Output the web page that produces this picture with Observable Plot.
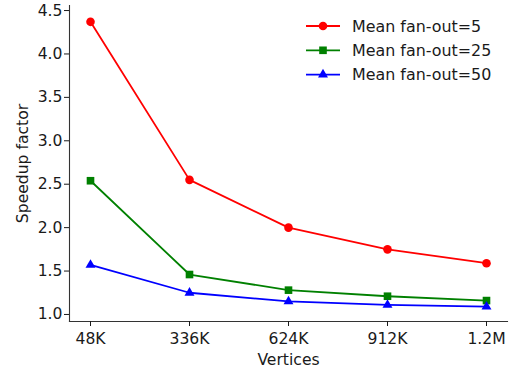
<!DOCTYPE html>
<html>
<head>
<meta charset="utf-8">
<script src="https://cdn.jsdelivr.net/npm/d3@7"></script>
<script src="https://cdn.jsdelivr.net/npm/@observablehq/plot@0.6"></script>
<style>
  body { margin: 0; background: #fff; }
  #chart { position: relative; width: 514px; height: 370px; }
</style>
</head>
<body>
<div id="chart"></div>
<script>
// Graph size (vertices) on the x axis
const vertices = ["48K", "336K", "624K", "912K", "1.2M"];

// Speedup factor per mean fan-out
const seriesNames = ["Mean fan-out=5", "Mean fan-out=25", "Mean fan-out=50"];
const fanout5  = [4.37, 2.55, 2.00, 1.75, 1.59];
const fanout25 = [2.54, 1.46, 1.28, 1.21, 1.16];
const fanout50 = [1.57, 1.25, 1.15, 1.11, 1.09];

const seriesColors  = ["#ff0000", "#008000", "#0000ff"];
const seriesSymbols = ["circle", "square", "triangle"];
const symbolRadius  = [4.3, 4.3, 3.7];

const yTicks = [1.0, 1.5, 2.0, 2.5, 3.0, 3.5, 4.0, 4.5];

// long-format table for the line and dot marks
const rows = [];
[fanout5, fanout25, fanout50].forEach((vals, s) => {
  vals.forEach((v, i) => rows.push({series: seriesNames[s], vertices: vertices[i], speedup: v}));
});

const font = "DejaVu Sans, sans-serif";
const fs = 15.6;
const lineW = 1.8;

const seriesMarks = seriesNames.flatMap((name, s) => {
  const d = rows.filter(r => r.series === name);
  return [
    Plot.line(d, {x: "vertices", y: "speedup", stroke: seriesColors[s], strokeWidth: lineW}),
    Plot.dot(d, {x: "vertices", y: "speedup", fill: seriesColors[s], symbol: seriesSymbols[s], r: symbolRadius[s], stroke: "none"})
  ];
});

const chart = Plot.plot({
  width: 514,
  height: 370,
  marginLeft: 69,
  marginRight: 7,
  marginTop: 5,
  marginBottom: 49,
  style: {fontFamily: font, fontSize: fs + "px", color: "#1a1a1a", background: "#fff"},
  x: {type: "point", domain: vertices, padding: 0.2},
  y: {domain: [0.919, 4.558]},
  marks: [
    Plot.frame({anchor: "left", stroke: "#333", strokeWidth: 1.1}),
    Plot.frame({anchor: "bottom", stroke: "#333", strokeWidth: 1.1}),
    Plot.axisY({ticks: yTicks, tickFormat: d3.format(".1f"), tickSize: 5, tickPadding: 2,
      fontSize: fs, label: "Speedup factor", labelAnchor: "center", labelArrow: "none", labelOffset: 53}),
    Plot.axisX({tickSize: 5, tickPadding: 6, fontSize: fs,
      label: "Vertices", labelAnchor: "center", labelArrow: "none", labelOffset: 43}),
    ...seriesMarks
  ]
});

document.getElementById("chart").appendChild(chart);

// Legend in the upper right of the plot area: line with marker, then label
const svg = d3.select(chart);
const legend = svg.append("g").attr("font-family", font).attr("font-size", 15.9)
  .attr("text-anchor", "start");
const legendX = 306, legendY = 26, rowGap = 24.3, handleW = 34;
seriesNames.forEach((name, s) => {
  const g = legend.append("g").attr("transform", `translate(${legendX},${legendY + s * rowGap})`);
  g.append("line").attr("x1", 0).attr("x2", handleW).attr("y1", 0).attr("y2", 0)
    .attr("stroke", seriesColors[s]).attr("stroke-width", lineW);
  const sym = {circle: d3.symbolCircle, square: d3.symbolSquare, triangle: d3.symbolTriangle}[seriesSymbols[s]];
  g.append("path")
    .attr("d", d3.symbol(sym, Math.PI * symbolRadius[s] ** 2)())
    .attr("transform", `translate(${handleW / 2},0)`)
    .attr("fill", seriesColors[s]);
  g.append("text").attr("x", 46).attr("y", 0).attr("dy", "0.35em")
    .attr("text-anchor", "start").attr("fill", "#1a1a1a").text(name);
});
</script>
</body>
</html>
